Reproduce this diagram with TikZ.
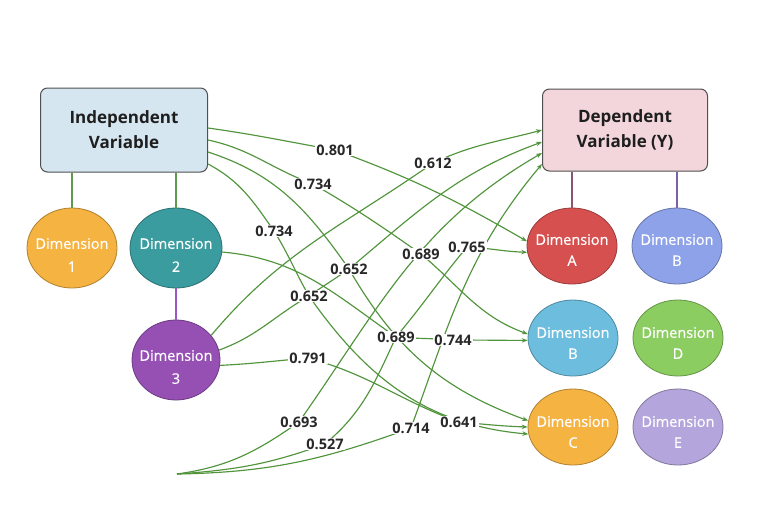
\documentclass[tikz,border=0pt]{standalone}
\usepackage{fontspec}
\setmainfont{Open Sans}
\newfontfamily\dimfont{Open Sans}[FakeBold=0.5]
\usetikzlibrary{shapes.geometric,arrows.meta}
\definecolor{edge}{RGB}{80,148,60}
\definecolor{lbltext}{RGB}{40,40,40}
\definecolor{boxtext}{RGB}{30,30,30}
\definecolor{boxline}{RGB}{80,80,80}
\definecolor{ivfill}{RGB}{214,230,241}
\definecolor{dvfill}{RGB}{242,214,219}
\definecolor{corange}{RGB}{245,179,66}
\definecolor{cteal}{RGB}{58,156,158}
\definecolor{cpurple}{RGB}{150,80,180}
\definecolor{cred}{RGB}{214,80,80}
\definecolor{cperi}{RGB}{141,162,232}
\definecolor{clblue}{RGB}{109,190,222}
\definecolor{cgreen}{RGB}{140,205,98}
\definecolor{clav}{RGB}{180,165,220}
\definecolor{vgreen}{RGB}{94,154,78}
\definecolor{vpurple}{RGB}{155,89,192}
\definecolor{vmauve}{RGB}{138,85,112}
\definecolor{vviolet}{RGB}{122,96,168}
\begin{document}
\begin{tikzpicture}[x=1pt,y=1pt,
  conn/.style={draw=edge, line width=1.15pt, -{Stealth[length=6pt,width=4.5pt]}},
  lbl/.style={fill=white, inner sep=1pt, font=\fontsize{14.5}{14.5}\selectfont\bfseries, text=lbltext},
  bigbox/.style={draw=boxline, line width=1pt, rounded corners=7pt, minimum width=167pt, minimum height=84pt, align=center, font=\fontsize{17}{25}\selectfont\bfseries, text=boxtext},
  dimnode/.style={ellipse, draw=#1!72!black, line width=0.8pt, fill=#1, minimum width=90pt, minimum height=76pt, inner sep=0pt},
  dimtextL/.style={align=center, text=white, inner sep=0pt, font=\dimfont\fontsize{14.5}{23}\selectfont},
  dimtextR/.style={align=center, text=white, inner sep=0pt, font=\dimfont\fontsize{14.5}{21}\selectfont},
  vline/.style={line width=1.2pt}
  ]
\useasboundingbox[fill=white] (0,0) rectangle (760,-528);

% boxes
\node[bigbox, fill=ivfill] (IV) at (124,-130) {Independent\\Variable};
\node[bigbox, fill=dvfill, minimum width=165pt, minimum height=82pt] (DV) at (625,-130) {Dependent\\Variable (Y)};

% dimensions
\node[dimnode=corange, minimum height=80pt] (D1) at (72,-248) {};
\node[dimnode=cteal, minimum height=80pt, minimum width=92pt] (D2) at (176,-248) {};
\node[dimnode=cpurple, minimum height=80pt, minimum width=88pt] (D3) at (176,-360) {};
\node[dimnode=cred] (DA) at (572,-246) {};
\node[dimnode=cperi] (DBt) at (677,-246) {};
\node[dimnode=clblue] (DB) at (573,-338) {};
\node[dimnode=cgreen] (DD) at (678,-338) {};
\node[dimnode=corange] (DC) at (573,-427) {};
\node[dimnode=clav] (DE) at (678,-427) {};

\node[dimtextL] (D1t) at ([yshift=-7pt]D1.center) {Dimension\\1};
\node[dimtextL] (D2t) at ([yshift=-7pt]D2.center) {Dimension\\2};
\node[dimtextL] (D3t) at ([yshift=-7pt]D3.center) {Dimension\\3};
\node[dimtextR] (DAt) at ([yshift=-4pt]DA.center) {Dimension\\A};
\node[dimtextR] (DBtt) at ([yshift=-4pt]DBt.center) {Dimension\\B};
\node[dimtextR] (DBx) at ([yshift=-5pt]DB.center) {Dimension\\B};
\node[dimtextR] (DDt) at ([yshift=-5pt]DD.center) {Dimension\\D};
\node[dimtextR] (DCt) at ([yshift=-5pt]DC.center) {Dimension\\C};
\node[dimtextR] (DEt) at ([yshift=-5pt]DE.center) {Dimension\\E};

% hierarchy lines
\draw[vline, vgreen] (D1.north |- IV.south) -- (D1.north);
\draw[vline, vgreen] (D2.north |- IV.south) -- (D2.north);
\draw[vline, vpurple] (D2.south) -- (D3.north);
\draw[vline, vmauve] (DA.north |- DV.south) -- (DA.north);
\draw[vline, vviolet] (DBt.north |- DV.south) -- (DBt.north);

% label positions
\coordinate (O) at (177,-474);
\coordinate (l801) at (335,-150);
\coordinate (l612) at (433,-163);
\coordinate (l734u) at (313,-184);
\coordinate (l734l) at (274,-231);
\coordinate (l652u) at (349,-269);
\coordinate (l652l) at (309,-296);
\coordinate (l689u) at (421,-254);
\coordinate (l765) at (467,-247);
\coordinate (l689l) at (396,-337);
\coordinate (l744) at (453,-340);
\coordinate (l791) at (308,-358);
\coordinate (l693) at (299,-422);
\coordinate (l527) at (325,-444);
\coordinate (l714) at (411,-428);
\coordinate (l641) at (459,-422);

% connectors
\draw[conn] ([yshift=2pt]IV.east) to[out=-8,in=170] (l801) to[out=-20,in=150] (DA.174);
\draw[conn] ([yshift=-10pt]IV.east) to[out=-12,in=160] (l734u) to[out=-30,in=145] (l689u) to[out=-40,in=160] (DB.175);
\draw[conn] ([yshift=-22pt]IV.east) to[out=-18,in=125] (l652u) to[out=-60,in=160] (DC.172);
\draw[conn] ([yshift=-34pt]IV.east) to[out=-28,in=125] (l734l) to[out=-58,in=120] (l652l) to[out=-55,in=175] (DC.189);
\draw[conn] (D2.-5) to[out=-5,in=145] (l689l) to[out=-5,in=175] (l744) to[out=0,in=180] (DB.183);
\draw[conn] (D3.35) to[out=50,in=-145] (l612) to[out=25,in=-165] (DV.west);
\draw[conn] (D3.13) to[out=20,in=-150] (l652l) to[out=35,in=-145] (l652u) to[out=40,in=-160] ([yshift=-12pt]DV.west);
\draw[conn] (D3.-7) to[out=3,in=185] (l791) to[out=-15,in=160] (l641) to[out=-5,in=178] (DC.180);
\draw[conn] (O) to[out=8,in=-145] (l693) to[out=55,in=-150] ([yshift=-23pt]DV.west);
\draw[conn] (O) to[out=4,in=-160] (l527) to[out=40,in=-115] (l689l) to[out=50,in=-130] (l765) to[out=-3,in=178] (DA.188);
\draw[conn] (O) to[out=1,in=-160] (l714) to[out=70,in=-130] ([yshift=-34pt]DV.west);

% labels
\node[lbl] (n801) at (l801) {0.801};
\node[lbl] (n612) at (l612) {0.612};
\node[lbl] (n734u) at (l734u) {0.734};
\node[lbl] (n734l) at (l734l) {0.734};
\node[lbl] (n652u) at (l652u) {0.652};
\node[lbl] (n652l) at (l652l) {0.652};
\node[lbl] (n689u) at (l689u) {0.689};
\node[lbl] (n765) at (l765) {0.765};
\node[lbl] (n689l) at (l689l) {0.689};
\node[lbl] (n744) at (l744) {0.744};
\node[lbl] (n791) at (l791) {0.791};
\node[lbl] (n693) at (l693) {0.693};
\node[lbl] (n527) at (l527) {0.527};
\node[lbl] (n714) at (l714) {0.714};
\node[lbl] (n641) at (l641) {0.641};
\end{tikzpicture}
\end{document}
